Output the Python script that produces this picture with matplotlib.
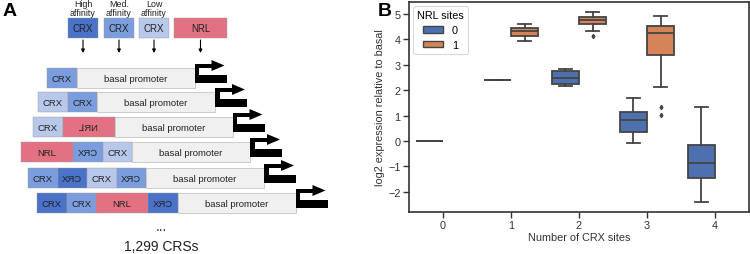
import matplotlib
matplotlib.use("Agg")
import matplotlib.pyplot as plt
from matplotlib.patches import Rectangle, Polygon, Patch

plt.rcParams['font.family'] = ['Liberation Sans', 'DejaVu Sans']

# ---- panel A: construct diagram ----
site_colors = {'high': '#4A72C8', 'med': '#7B9DDD', 'low': '#B8C8EA', 'nrl': '#E37184'}
key_labels = ['High\naffinity', 'Med.\naffinity', 'Low\naffinity', '']
key_sites = [('CRX', 'high'), ('CRX', 'med'), ('CRX', 'low'), ('NRL', 'nrl')]
constructs = [
    [('CRX', 'med')],
    [('CRX', 'low'), ('CRX', 'med')],
    [('CRX', 'low'), ('⅃ЯИ', 'nrl')],
    [('NRL', 'nrl'), ('XЯƆ', 'med'), ('CRX', 'low')],
    [('CRX', 'med'), ('XЯƆ', 'high'), ('CRX', 'low'), ('XЯƆ', 'med')],
    [('CRX', 'high'), ('CRX', 'med'), ('NRL', 'nrl'), ('XЯƆ', 'high')],
]
n_crs = '1,299 CRSs'

# ---- panel B: boxplot stats (log2 expression relative to basal) ----
crx_sites = [0, 1, 2, 3, 4]
nrl_levels = ['0', '1']
# NRL sites = 0
med0 = [0.0, 2.39, 2.48, 0.83, -0.87]
q1_0 = [0.0, 2.39, 2.23, 0.36, -1.46]
q3_0 = [0.0, 2.39, 2.76, 1.12, -0.16]
lo0 = [0.0, 2.39, 2.16, -0.09, -2.42]
hi0 = [0.0, 2.39, 2.85, 1.67, 1.32]
fl0 = [[], [], [], [], []]
# NRL sites = 1
crx1 = [1, 2, 3]
med1 = [4.31, 4.76, 4.25]
q1_1 = [4.12, 4.61, 3.37]
q3_1 = [4.44, 4.88, 4.54]
lo1 = [3.94, 4.31, 2.12]
hi1 = [4.61, 5.09, 4.93]
fl1 = [[], [4.13], [1.34, 1.02]]

blue = '#4F70AE'
orange = '#D58457'
line_c = '#444444'

fig = plt.figure(figsize=(7.5, 2.55), dpi=100)

# panel A in pixel coordinates
ax = fig.add_axes([0, 0, 370 / 750, 1])
ax.set_xlim(0, 370)
ax.set_ylim(255, 0)
ax.axis('off')

ax.text(3, 20, 'A', fontsize=14, fontweight='bold', va='bottom', ha='left')

key_x = [68, 104, 139, 174]
for (lab, kind), x, top in zip(key_sites, key_x, key_labels):
    w = 53 if kind == 'nrl' else 30
    ax.add_patch(Rectangle((x, 19), w, 20, facecolor=site_colors[kind],
                           edgecolor='#9a9a9a', lw=0.3))
    ax.text(x + w / 2, 29.5, lab, fontsize=7, ha='center', va='center', color='#222222')
    if top:
        ax.text(x + w / 2, 18.5, top, fontsize=6.4, ha='center', va='bottom',
                color='#222222', linespacing=1.05)
    ax.annotate('', xy=(x + w / 2, 54), xytext=(x + w / 2, 41),
                arrowprops=dict(arrowstyle='-|>', lw=0.8, color='black',
                                mutation_scale=5, shrinkA=0, shrinkB=0))

row_x0 = [47, 38, 33, 21, 28, 37]
row_top = [69, 93, 118, 143, 169, 194]
h = 20
for sites, x, y in zip(constructs, row_x0, row_top):
    for lab, kind in sites:
        w = 52 if kind == 'nrl' else 29.5
        ax.add_patch(Rectangle((x, y), w, h, facecolor=site_colors[kind],
                               edgecolor='#9a9a9a', lw=0.3))
        ax.text(x + w / 2, y + h / 2 + 0.5, lab, fontsize=6.8, ha='center', va='center',
                color='#222222')
        x += w
    ax.add_patch(Rectangle((x, y), 118, h, facecolor='#F0F0F0', edgecolor='#C4C4C4', lw=0.6))
    ax.text(x + 59, y + h / 2 + 0.5, 'basal promoter', fontsize=6.8, ha='center',
            va='center', color='#222222')
    # bent promoter arrow
    xe = x + 118
    ax.add_patch(Rectangle((xe, y + 6.5), 32, 8, color='black', lw=0))
    ax.add_patch(Rectangle((xe, y - 3.5), 4.5, 18, color='black', lw=0))
    ax.add_patch(Rectangle((xe, y - 3.8), 18, 3.6, color='black', lw=0))
    ax.add_patch(Polygon([(xe + 17, y - 8), (xe + 17, y + 3), (xe + 30, y - 2.5)],
                         closed=True, color='black', lw=0))

ax.text(161, 227, '...', fontsize=10, ha='center', va='center', color='#333333')
ax.text(161, 247, n_crs, fontsize=10, ha='center', va='center', color='#222222')

# panel B
bx = fig.add_axes([409 / 750, 42 / 255, 340 / 750, 210 / 255])
fig.text(378 / 750, 1 - 20 / 255, 'B', fontsize=14, fontweight='bold', va='bottom', ha='left')


def make_stats(med, q1, q3, lo, hi, fl):
    return [dict(med=m, q1=a, q3=b, whislo=l, whishi=u, fliers=f)
            for m, a, b, l, u, f in zip(med, q1, q3, lo, hi, fl)]


box_kw = dict(widths=0.4, capwidths=0.2, patch_artist=True, manage_ticks=False,
              whiskerprops=dict(color=line_c, lw=1.3),
              capprops=dict(color=line_c, lw=1.3),
              medianprops=dict(color=line_c, lw=1.3),
              flierprops=dict(marker='d', markersize=2.2, markerfacecolor=line_c,
                              markeredgecolor=line_c, linestyle='none'))

b0 = bx.bxp(make_stats(med0, q1_0, q3_0, lo0, hi0, fl0),
            positions=[c - 0.2 for c in crx_sites],
            boxprops=dict(facecolor=blue, edgecolor=line_c, lw=1.3), **box_kw)
b1 = bx.bxp(make_stats(med1, q1_1, q3_1, lo1, hi1, fl1),
            positions=[c + 0.2 for c in crx1],
            boxprops=dict(facecolor=orange, edgecolor=line_c, lw=1.3), **box_kw)

bx.set_xlim(-0.5, 4.5)
bx.set_ylim(-2.8, 5.47)
bx.set_xticks(crx_sites)
bx.set_xticklabels([str(c) for c in crx_sites])
bx.set_yticks(range(-2, 6))
bx.tick_params(direction='out', length=4, width=1, labelsize=7.8, colors='#333333',
               pad=2)
for s in bx.spines.values():
    s.set_linewidth(1.2)
    s.set_color('#333333')
bx.set_xlabel('Number of CRX sites', fontsize=7.8, color='#333333', labelpad=1)
bx.set_ylabel('log2 expression relative to basal', fontsize=7.8, color='#333333',
              labelpad=2)

handles = [Patch(facecolor=blue, edgecolor=line_c, lw=1.0),
           Patch(facecolor=orange, edgecolor=line_c, lw=1.0)]
leg = bx.legend(handles, nrl_levels, title='NRL sites', loc='upper left', fontsize=7.8,
                title_fontsize=7.8, frameon=True, borderaxespad=0.4, handlelength=1.9,
                handleheight=0.6, labelspacing=0.45, borderpad=0.35)
leg.get_frame().set_edgecolor('#d0d0d0')
leg.get_frame().set_linewidth(0.8)

fig.savefig('out.png', dpi=100)
